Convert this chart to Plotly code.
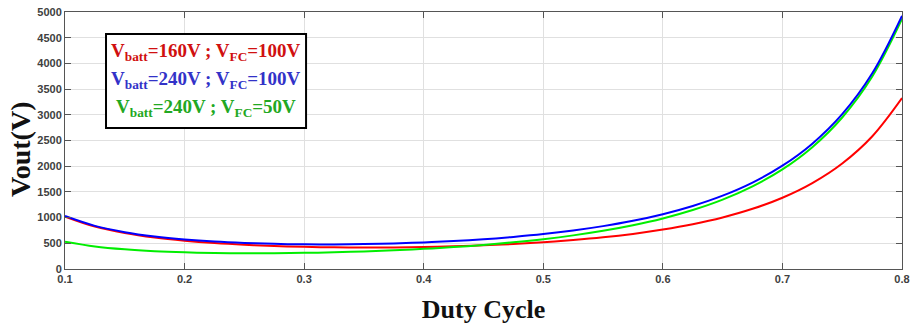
import plotly.graph_objects as go

duty = [0.100, 0.125, 0.150, 0.175, 0.200, 0.225, 0.250, 0.275, 0.300, 0.325,
        0.350, 0.375, 0.400, 0.425, 0.450, 0.475, 0.500, 0.525, 0.550, 0.575,
        0.600, 0.625, 0.650, 0.675, 0.700, 0.725, 0.750, 0.775, 0.800]

vout_160_100 = [1020, 826, 700, 612, 550, 504, 471, 448, 431, 422,
                418, 420, 428, 441, 460, 487, 520, 563, 616, 683,
                767, 871, 1003, 1171, 1387, 1672, 2053, 2578, 3325]

vout_240_100 = [1030, 839, 717, 633, 575, 534, 507, 489, 480, 479,
                485, 497, 517, 544, 579, 625, 680, 749, 834, 938,
                1067, 1227, 1427, 1682, 2010, 2439, 3013, 3803, 4925]

vout_240_50 = [530, 439, 383, 347, 325, 312, 307, 307, 314, 325,
               342, 364, 392, 426, 468, 519, 580, 654, 743, 851,
               983, 1147, 1350, 1608, 1938, 2370, 2947, 3739, 4863]

x_ticks = [0.1, 0.2, 0.3, 0.4, 0.5, 0.6, 0.7, 0.8]
y_ticks = [0, 500, 1000, 1500, 2000, 2500, 3000, 3500, 4000, 4500, 5000]

legend_labels = [
    "V<sub>batt</sub>=160V ; V<sub>FC</sub>=100V",
    "V<sub>batt</sub>=240V ; V<sub>FC</sub>=100V",
    "V<sub>batt</sub>=240V ; V<sub>FC</sub>=50V",
]
line_colors = ["#ff0000", "#0000ff", "#00ee00"]
text_colors = ["#d01010", "#3232c8", "#22a822"]

fig = go.Figure()
for ys, c in zip([vout_160_100, vout_240_50, vout_240_100], [line_colors[0], line_colors[2], line_colors[1]]):
    fig.add_trace(go.Scatter(x=duty, y=ys, mode="lines",
                             line=dict(color=c, width=2, shape="spline"),
                             showlegend=False, hoverinfo="skip"))

axis_common = dict(
    showline=True, linecolor="#555555", linewidth=1, mirror="ticks",
    ticks="inside", ticklen=6, tickcolor="#555555",
    showgrid=True, gridcolor="#e0e0e0", gridwidth=1, zeroline=False,
    automargin=False, ticklabeloverflow="allow",
    tickfont=dict(family="Liberation Sans", size=11, color="#404040", weight="bold"),
)

fig.update_xaxes(range=[0.1, 0.8], tickvals=x_ticks, ticktext=[f"{v:g}" for v in x_ticks],
                 title=dict(text="<b>Duty Cycle</b>", standoff=16,
                            font=dict(family="Liberation Serif", size=26, color="#111111")),
                 **axis_common)
fig.update_yaxes(range=[0, 5000], tickvals=y_ticks, ticktext=[str(v) for v in y_ticks],
                 **axis_common)

# y-axis title as annotation (sits slightly below the plot's vertical centre, as in the reference)
fig.add_annotation(xref="paper", yref="paper", x=-0.0526, y=0.467, text="<b>Vout(V)</b>",
                   textangle=-90, showarrow=False, xanchor="center", yanchor="middle",
                   font=dict(family="Liberation Serif", size=28, color="#111111"))

fig.add_shape(type="rect", xref="paper", yref="paper", x0=0.049, x1=0.288, y0=0.549, y1=0.914,
              line=dict(color="black", width=2), fillcolor="white", layer="above")
for lbl, c, yy in zip(legend_labels, text_colors, [0.844, 0.735, 0.626]):
    fig.add_annotation(xref="paper", yref="paper", x=0.1685, y=yy, text=f"<b>{lbl}</b>",
                       showarrow=False, xanchor="center", yanchor="middle",
                       font=dict(family="Liberation Serif", size=19, color=c))

fig.update_layout(width=910, height=324, margin=dict(l=65, r=8, t=12, b=55),
                  paper_bgcolor="white", plot_bgcolor="white")

# remove the browser's default 8px body margin so the figure fills the 910x324 window exactly
fig.write_html("out.html", config={"displayModeBar": False},
               post_script="document.body.style.margin='0px';")
